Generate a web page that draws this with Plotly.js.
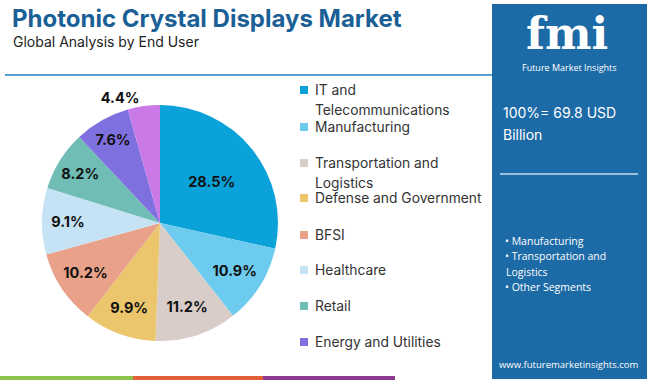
<!DOCTYPE html>
<html><head><meta charset="utf-8">
<script src="https://cdn.plot.ly/plotly-3.0.1.min.js"></script>
<style>html,body{margin:0;padding:0;background:#fff}#c{width:650px;height:380px}</style>
</head><body><div id="c"></div>
<script>
const categories = ["IT and Telecommunications","Manufacturing","Transportation and Logistics","Defense and Government","BFSI","Healthcare","Retail","Energy and Utilities","Others"];
const shares = [28.5,10.9,11.2,9.9,10.2,9.1,8.2,7.6,4.4];
const colors = ["#0ba1d9","#6dcbef","#d9cdca","#ecc66c","#e9a189","#c6e3f5","#6fbdb5","#7f70df","#c97ae6"];
const legendLabels = [["IT and","Telecommunications"],["Manufacturing"],["Transportation and","Logistics"],["Defense and Government"],["BFSI"],["Healthcare"],["Retail"],["Energy and Utilities"]];
const legendY = [90,127,163,198,235,270,306,342];
const totalText = ["100%= 69.8 USD","Billion"];
const bullets = ["• Manufacturing","• Transportation and","Logistics","• Other Segments"];

const W=650,H=380;
const px=x=>x/W, py=y=>1-y/H;

const shapes=[], ann=[];
shapes.push({type:"rect",xref:"paper",yref:"paper",x0:px(492),x1:px(647),y0:py(379),y1:py(4),fillcolor:"#1c6aa6",line:{width:0},layer:"below"});
shapes.push({type:"line",xref:"paper",yref:"paper",x0:px(5),x1:px(492),y0:py(75),y1:py(75),line:{color:"#5a9fd0",width:2}});
[["#8bc34a",0,133],["#e0603a",133,263],["#8e3a8e",263,395]].forEach(s=>shapes.push({type:"rect",xref:"paper",yref:"paper",x0:px(s[1]),x1:px(s[2]),y0:0,y1:py(376),fillcolor:s[0],line:{width:0}}));
shapes.push({type:"line",xref:"paper",yref:"paper",x0:px(500),x1:px(638),y0:py(174),y1:py(174),line:{color:"#c9dcec",width:1.5}});

ann.push({text:"<b>Photonic Crystal Displays Market</b>",x:px(10),y:py(18),xref:"paper",yref:"paper",xanchor:"left",yanchor:"middle",showarrow:false,font:{family:"Inter, Open Sans",size:24,color:"#1a5f96"}});
ann.push({text:"Global Analysis by End User",x:px(11),y:py(41),xref:"paper",yref:"paper",xanchor:"left",yanchor:"middle",showarrow:false,font:{family:"Inter, Open Sans",size:14,color:"#222"}});

legendLabels.forEach((lab,i)=>{
  const y=legendY[i];
  shapes.push({type:"rect",xref:"paper",yref:"paper",x0:px(300),x1:px(308),y0:py(y+4),y1:py(y-4),fillcolor:colors[i],line:{width:0}});
  lab.forEach((t,j)=>ann.push({text:t,x:px(313),y:py(y+j*20),xref:"paper",yref:"paper",xanchor:"left",yanchor:"middle",showarrow:false,font:{family:"Inter, Open Sans",size:13.8,color:"#333"}}));
});

ann.push({text:"<b>fmi</b>",x:px(567),y:py(33),xref:"paper",yref:"paper",xanchor:"center",yanchor:"middle",showarrow:false,font:{family:"DejaVu Serif",size:44,color:"#ffffff"}});
ann.push({text:"Future Market Insights",x:px(569),y:py(67),xref:"paper",yref:"paper",xanchor:"center",yanchor:"middle",showarrow:false,font:{family:"Open Sans",size:9,color:"#ffffff"}});
totalText.forEach((t,j)=>ann.push({text:t,x:px(501),y:py(113+j*21),xref:"paper",yref:"paper",xanchor:"left",yanchor:"middle",showarrow:false,font:{family:"Inter, Open Sans",size:14,color:"#ffffff"}}));
bullets.forEach((t,j)=>ann.push({text:t,x:px(t.startsWith("•")?503:504),y:py(241+j*15.3),xref:"paper",yref:"paper",xanchor:"left",yanchor:"middle",showarrow:false,font:{family:"Open Sans",size:10.5,color:"#ffffff"}}));
ann.push({text:"www.futuremarketinsights.com",x:px(569),y:py(364),xref:"paper",yref:"paper",xanchor:"center",yanchor:"middle",showarrow:false,font:{family:"Open Sans",size:9.5,color:"#ffffff"}});

const trace={type:"pie",labels:categories,values:shares,sort:false,direction:"clockwise",rotation:0,
  marker:{colors:colors,line:{width:0}},
  texttemplate:"<b>%{value:.1f}%</b>",
  textposition:shares.map((v,i)=>i===shares.length-1?"outside":"inside"),
  insidetextorientation:"horizontal",
  textfont:{family:"Inter, Open Sans",size:14.5,color:"#111"},
  hoverinfo:"none",showlegend:false,
  domain:{x:[px(42),px(278)],y:[py(341),py(105)]}};

Plotly.newPlot("c",[trace],{width:W,height:H,margin:{l:0,r:0,t:0,b:0},paper_bgcolor:"#fff",shapes:shapes,annotations:ann,showlegend:false},{staticPlot:true});
</script></body></html>
